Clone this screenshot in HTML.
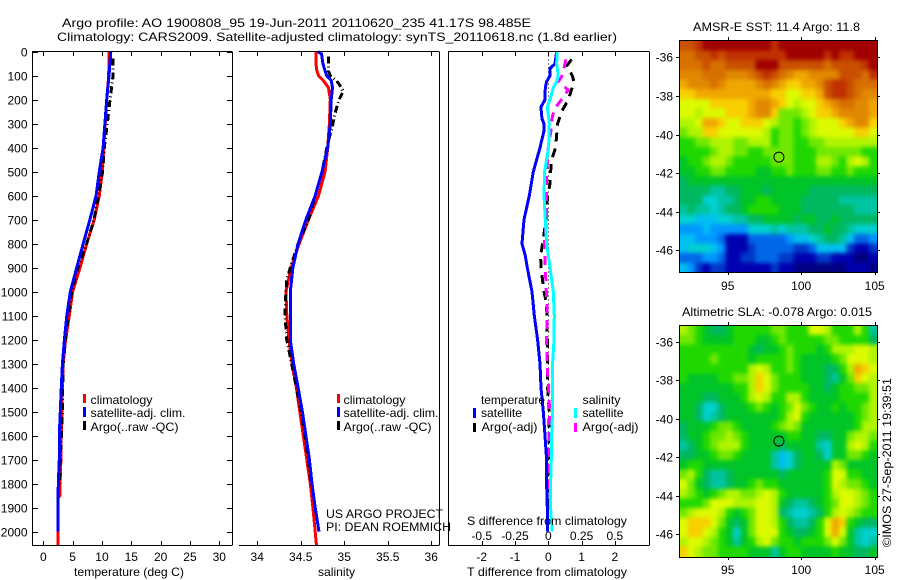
<!DOCTYPE html>
<html>
<head>
<meta charset="utf-8">
<title>Argo profile</title>
<style>
html,body{margin:0;padding:0;background:#fff;}
svg{display:block;}
text{font-family:"Liberation Sans",sans-serif;font-size:12px;fill:#000;}
</style>
</head>
<body>
<svg id="chart" width="900" height="580" viewBox="0 0 900 580" xmlns="http://www.w3.org/2000/svg">
  <defs>
    <filter id="map-smooth" filterUnits="userSpaceOnUse" x="650" y="20" width="250" height="560" color-interpolation-filters="sRGB">
      <feGaussianBlur stdDeviation="2.2"/>
    </filter>
    <clipPath id="sst-clip"><rect x="679" y="40" width="198" height="232"/></clipPath>
    <clipPath id="sla-clip"><rect x="679" y="325" width="198" height="232"/></clipPath>
  </defs>
  <rect x="0" y="0" width="900" height="580" fill="#fff"/>
  <text x="62" y="27" textLength="469" lengthAdjust="spacingAndGlyphs">Argo profile: AO 1900808_95 19-Jun-2011 20110620_235 41.17S 98.485E</text>
  <text x="57" y="41" textLength="560" lengthAdjust="spacingAndGlyphs">Climatology: CARS2009. Satellite-adjusted climatology: synTS_20110618.nc (1.8d earlier)</text>

  <g id="maps"></g>
  <g id="lines"></g>
  <g id="axes"></g>

  <g>
    <rect x="83" y="394" width="3" height="9" fill="#f00"/>
    <rect x="83" y="407" width="3" height="10" fill="#00f"/>
    <rect x="83" y="421" width="3" height="9" fill="#000"/>
    <text x="90.5" y="404" textLength="62" lengthAdjust="spacingAndGlyphs">climatology</text>
    <text x="90.5" y="417" textLength="95" lengthAdjust="spacingAndGlyphs">satellite-adj. clim.</text>
    <text x="90.5" y="431" textLength="88" lengthAdjust="spacingAndGlyphs">Argo(..raw -QC)</text>
  </g>
  <g>
    <rect x="337" y="394" width="3" height="9" fill="#f00"/>
    <rect x="337" y="407" width="3" height="10" fill="#00f"/>
    <rect x="337" y="421" width="3" height="9" fill="#000"/>
    <text x="343.5" y="404" textLength="62" lengthAdjust="spacingAndGlyphs">climatology</text>
    <text x="343.5" y="417" textLength="95" lengthAdjust="spacingAndGlyphs">satellite-adj. clim.</text>
    <text x="343.5" y="431" textLength="88" lengthAdjust="spacingAndGlyphs">Argo(..raw -QC)</text>
  </g>
  <g>
    <text x="481" y="404" textLength="64" lengthAdjust="spacingAndGlyphs">temperature</text>
    <rect x="473" y="408" width="3" height="10" fill="#00f"/>
    <text x="481" y="417" textLength="41" lengthAdjust="spacingAndGlyphs">satellite</text>
    <rect x="473" y="423" width="3" height="9" fill="#000"/>
    <text x="481.5" y="431" textLength="56" lengthAdjust="spacingAndGlyphs">Argo(-adj)</text>
    <text x="582.5" y="404" textLength="38" lengthAdjust="spacingAndGlyphs">salinity</text>
    <rect x="574" y="408" width="3" height="10" fill="#0ff"/>
    <text x="582.5" y="417" textLength="41" lengthAdjust="spacingAndGlyphs">satellite</text>
    <rect x="574" y="423" width="3" height="9" fill="#f0f"/>
    <text x="582.5" y="431" textLength="56" lengthAdjust="spacingAndGlyphs">Argo(-adj)</text>
  </g>

  <text x="326" y="518" textLength="117" lengthAdjust="spacingAndGlyphs">US ARGO PROJECT</text>
  <text x="326" y="531" textLength="125" lengthAdjust="spacingAndGlyphs">PI: DEAN ROEMMICH</text>

  <text x="74" y="576" textLength="110" lengthAdjust="spacingAndGlyphs">temperature (deg C)</text>
  <text x="318" y="576" textLength="37" lengthAdjust="spacingAndGlyphs">salinity</text>
  <text x="467" y="525" textLength="160" lengthAdjust="spacingAndGlyphs">S difference from climatology</text>
  <text x="467" y="576" textLength="160" lengthAdjust="spacingAndGlyphs">T difference from climatology</text>

  <text x="693" y="31" textLength="167" lengthAdjust="spacingAndGlyphs">AMSR-E SST: 11.4  Argo: 11.8</text>
  <text x="682" y="316" textLength="190" lengthAdjust="spacingAndGlyphs">Altimetric SLA: -0.078  Argo: 0.015</text>
  <text transform="translate(891,547) rotate(-90)" x="0" y="0" textLength="169" lengthAdjust="spacingAndGlyphs">©IMOS 27-Sep-2011 19:39:51</text>
</svg>

<script>
// ---------- profile data ----------
const depthTicks = [0,100,200,300,400,500,600,700,800,900,1000,1100,1200,1300,1400,1500,1600,1700,1800,1900,2000];
const tempTicks = [0,5,10,15,20,25,30];
const salTicks = [34,34.5,35,35.5,36];
const salTickLabels = ['34','34.5','35','35.5','36'];
const tDiffTicks = [-2,-1,0,1,2];
const sDiffTicks = [-0.5,-0.25,0,0.25,0.5];
const sDiffTickLabels = ['-0.5','-0.25','0','0.25','0.5'];

const tempDepthBlue = [0,100,200,300,400,500,600,700,800,900,1000,1100,1200,1300,1400,1500,1600,1700,1800,1900,2000];
const tempBlue = [11.5,11.2,10.8,10.5,10.2,9.55,9.0,7.95,6.8,5.7,4.6,4.0,3.6,3.25,3.07,2.9,2.73,2.73,2.56,2.5,2.5];
const tempDepthRed = [0,100,200,300,400,500,600,700,800,900,1000,1100,1200,1300,1400,1500,1600,1700,1800,1850,1860,2000,2055];
const tempRed = [11.2,11.15,10.8,10.55,10.3,10.05,9.55,8.7,7.4,6.25,5.0,4.43,3.8,3.4,3.25,3.18,3.07,3.0,2.85,2.85,2.5,2.5,2.5];
const tempDepthArgo = [28,100,200,300,400,500,600,700,800,900,1000,1100,1200,1300,1400,1500,1600,1700,1810];
const tempArgo = [11.9,11.9,11.37,10.9,10.4,10.1,9.4,8.65,7.4,5.9,4.85,4.26,3.8,3.4,3.3,3.25,3.07,2.9,2.8];

const salDepthBlue = [0,10,50,80,100,120,150,200,300,400,500,600,700,800,900,1000,1100,1200,1300,1400,1500,1600,1700,1800,1900,2000];
const salBlue = [34.7,34.74,34.755,34.78,34.8,34.85,34.865,34.85,34.84,34.81,34.745,34.667,34.56,34.47,34.41,34.38,34.38,34.38,34.42,34.47,34.52,34.56,34.6,34.63,34.667,34.71];
const salDepthRed = [0,50,80,100,120,150,200,300,400,500,600,700,800,900,1000,1100,1200,1300,1400,1500,1600,1700,1800,1900,2000,2055];
const salRed = [34.675,34.675,34.686,34.705,34.76,34.82,34.84,34.83,34.81,34.78,34.705,34.59,34.483,34.39,34.33,34.34,34.365,34.4,34.45,34.49,34.53,34.57,34.61,34.64,34.667,34.68];
const salDepthArgo = [20,80,100,120,150,165,200,250,300,400,500,600,700,800,900,950,1000,1100,1200,1300,1400,1500,1600,1700,1810];
const salArgo = [34.82,34.82,34.84,34.91,34.97,34.99,34.94,34.9,34.87,34.8,34.745,34.667,34.59,34.47,34.38,34.34,34.33,34.32,34.34,34.395,34.45,34.505,34.55,34.59,34.62];

const diffDepthTSat = [0,50,70,100,125,150,200,230,250,280,300,330,400,500,600,700,800,850,900,1000,1100,1200,1300,1400,1500,1600,1700,1800,1900,2000];
const diffTSat = [0.25,0.2,0.05,0.05,-0.05,-0.09,-0.1,-0.22,-0.21,-0.19,-0.13,-0.13,-0.25,-0.45,-0.57,-0.73,-0.79,-0.69,-0.63,-0.49,-0.42,-0.32,-0.25,-0.22,-0.15,-0.1,-0.05,-0.05,-0.03,-0.03];
const diffDepthSSat = [0,50,100,125,150,200,230,300,400,450,500,600,700,800,900,1000,1100,1200,1300,1400,1500,1600,1700,1800,1900,2000];
const diffSSat = [0.0675,0.0625,0.075,0.0625,0.0375,0.0125,-0.0075,0.0075,0.0025,-0.0125,-0.0275,-0.0325,-0.0225,-0.0125,0.0125,0.0375,0.045,0.0425,0.0325,0.0325,0.0325,0.025,0.0225,0.0175,0.0175,0.03];
const diffDepthTArgo = [32,60,80,100,125,170,200,250,300,400,450,500,550,600,700,780,850,900,1000,1050,1200,1400,1500,1600,1700,1800,1900];
const diffTArgo = [0.7,0.55,0.65,0.72,0.77,0.67,0.6,0.4,0.28,0.22,0.1,0.07,0.05,-0.02,-0.07,-0.15,-0.23,-0.22,-0.13,-0.05,-0.03,-0.02,0.03,0.02,0,-0.02,-0.03];
const diffDepthSArgo = [32,70,104,125,160,208,235,270,300,400,500,600,700,800,850,900,1000,1100,1200,1300,1400,1500,1600,1700,1800,1850];
const diffSArgo = [0.1325,0.118,0.1,0.075,0.15,0.0875,0.05,0.03,0.0275,0,-0.0125,-0.0125,-0.0125,-0.03,-0.025,-0.0225,-0.015,-0.0075,-0.0125,-0.01,0.0025,0.01,0.005,0.0025,0,0];

// ---------- map data: colour levels 0 (coldest/lowest) .. 20 (warmest/highest) ----------
const mapLonTicks = [95,100,105];
const mapLatTicks = [-36,-38,-40,-42,-44,-46];
const argoLon = 98.485;
const argoLat = -41.17;

const sstLevels = [
[18,18,19,20,20,20,20,20,20,20,20,20,19,20,20,20,20,20,20,20,20,20,20,20,20,20],
[17,17,18,18,19,18,19,19,19,19,19,19,19,19,20,20,20,20,20,19,20,19,19,20,20,20],
[17,17,17,18,17,17,18,18,18,18,20,20,20,18,18,18,18,18,18,17,18,18,18,18,19,20],
[16,16,16,17,17,17,16,16,16,17,18,19,18,17,16,15,15,16,16,16,16,18,18,18,17,19],
[15,16,16,16,17,16,15,15,15,15,16,17,16,15,14,14,15,15,16,18,19,19,18,17,17,17],
[14,14,15,15,15,15,15,15,15,15,15,15,14,14,13,13,14,14,15,18,19,19,18,17,16,16],
[13,13,13,13,14,14,14,14,14,15,16,16,15,14,13,12,13,13,14,15,16,17,17,16,16,15],
[13,13,12,13,13,13,14,14,14,15,16,16,14,11,11,11,12,13,14,14,15,16,16,16,16,15],
[12,12,13,15,15,14,13,13,14,14,14,13,12,11,11,10,11,12,13,13,13,14,15,16,16,14],
[11,12,12,14,14,13,13,13,13,13,13,12,10,11,11,10,11,12,13,13,13,13,13,14,14,13],
[10,10,11,11,12,12,12,11,11,12,12,12,10,11,11,10,10,11,11,12,12,12,12,12,12,12],
[10,10,10,10,11,12,12,11,11,10,10,11,11,11,11,10,10,10,11,11,11,11,11,11,10,10],
[9,10,10,11,12,12,11,10,10,10,10,10,11,11,11,10,10,10,12,12,11,10,12,13,12,10],
[9,9,10,10,11,11,10,10,10,10,9,9,10,10,11,10,10,10,11,11,10,10,11,10,10,10],
[8,9,9,9,9,9,9,9,9,9,9,9,9,9,9,9,9,9,9,9,9,9,9,9,9,9],
[8,8,8,8,7,7,8,8,9,9,9,8,9,9,9,9,9,8,8,8,8,8,8,8,8,8],
[8,8,8,6,6,7,7,8,9,9,10,10,9,9,9,9,8,8,8,8,8,7,7,7,7,7],
[7,8,7,7,6,7,8,8,9,10,10,10,10,9,9,9,8,8,8,8,8,8,8,7,7,7],
[6,6,5,5,5,6,6,7,7,8,8,9,9,9,9,8,9,9,8,8,9,8,8,8,8,8],
[4,4,4,5,4,4,4,4,4,6,6,6,7,6,7,7,7,8,8,9,8,8,7,6,6,6],
[5,5,4,4,4,3,1,1,1,3,3,3,3,3,4,5,5,6,7,8,8,7,5,3,3,4],
[5,6,6,6,5,4,1,1,1,2,3,3,3,3,3,2,2,3,5,5,5,5,2,1,1,2],
[3,3,3,4,4,3,1,1,2,2,3,3,3,2,2,1,1,1,2,2,1,1,1,0,0,1],
[5,4,2,1,2,2,1,1,1,1,1,1,2,1,1,0,0,0,0,0,0,0,1,1,1,0]
];

const slaLevels = [
[12,11,10,9,8,8,9,10,10,10,10,10,11,11,10,10,10,13,13,12,10,10,10,12,10,7],
[11,11,10,9,9,9,9,10,10,10,9,9,10,11,10,10,10,10,10,11,11,10,10,10,10,8],
[10,10,10,10,10,10,10,10,10,9,8,9,9,10,11,10,10,10,9,10,12,12,12,13,13,12],
[10,10,10,10,11,10,10,10,10,9,10,10,10,10,11,10,9,9,9,9,10,11,13,13,13,12],
[10,10,10,10,10,10,10,10,10,12,13,12,10,10,11,10,9,9,9,8,8,10,12,15,14,13],
[10,9,9,9,9,10,10,11,11,12,14,13,11,10,10,10,9,9,9,8,7,9,11,14,13,12],
[9,9,9,9,9,9,9,10,10,12,14,13,11,10,10,10,10,9,9,8,9,10,10,11,11,12],
[9,9,9,8,8,9,9,9,10,12,13,12,10,10,12,12,10,9,9,9,9,10,10,10,10,12],
[9,9,8,6,6,8,9,9,9,10,11,10,9,10,11,13,11,10,9,9,10,9,10,10,11,12],
[9,9,8,6,7,8,9,9,9,9,9,9,9,10,12,13,10,9,9,9,9,9,9,10,11,12],
[8,9,9,9,10,11,11,10,9,9,9,9,10,11,12,11,9,9,9,9,9,9,9,10,12,12],
[8,9,9,10,11,11,12,11,10,9,9,9,9,9,10,10,9,9,8,8,9,9,11,12,12,11],
[7,8,9,10,11,12,12,12,10,9,9,9,9,8,9,9,9,9,7,6,9,9,12,13,12,10],
[8,8,9,9,10,11,11,10,9,9,9,9,7,5,6,8,9,9,8,6,9,9,11,11,10,9],
[9,10,10,9,9,9,9,9,9,9,9,9,7,5,6,8,9,9,9,9,12,11,9,9,9,9],
[11,12,10,8,7,7,8,9,9,9,9,9,9,8,9,9,9,9,9,10,13,13,10,10,9,9],
[13,11,9,8,7,7,8,9,9,10,11,10,10,9,9,9,9,9,9,10,13,12,11,11,10,9],
[12,11,10,9,10,11,12,12,11,11,12,13,12,10,9,9,9,9,9,10,12,13,13,12,11,10],
[10,10,10,11,13,13,13,12,12,12,13,13,12,9,8,7,7,8,9,10,11,13,13,12,11,10],
[11,12,13,13,13,12,10,9,10,11,13,13,12,8,7,6,6,7,8,10,12,13,12,11,10,10],
[13,14,14,14,13,11,9,8,9,11,13,13,12,10,8,7,7,8,10,13,15,14,10,9,8,8],
[13,14,14,13,12,10,9,6,9,11,13,13,13,10,9,8,8,9,10,13,15,13,9,7,6,6],
[12,13,13,12,11,10,9,7,9,10,12,13,11,10,10,9,10,10,10,11,13,11,9,7,6,7],
[14,13,12,11,11,10,10,10,10,9,9,9,7,9,10,10,9,9,9,9,10,9,9,8,8,9]
];

// ---------- colour scale ----------
const palette = ['#000080','#0000b0','#0038c8','#0068e8','#0098ff','#00c0f0','#00d0d0','#00c4a0','#00b860','#00c428','#20d800','#70e800','#b0f400','#dcfa00','#f8d000','#f0a800','#e08800','#d87000','#c85000','#c03000','#a00000'];
function levelColor(v){
  return palette[Math.max(0,Math.min(palette.length-1,Math.round(v)))];
}

// ---------- axis functions ----------
function depthY(d){ return 51.7 + 0.24*d; }
function tempX(t){ return 43.3 + 5.867*t; }
function salX(s){ return 257.2 + 87*(s-34); }
function tDiffX(t){ return 548.3 + 33.3*t; }
function sDiffX(s){ return 548.3 + 133.2*s; }
function mapX(lon){ return 727.7 + 14.7*(lon-95); }
function sstY(lat){ return 57.3 + 19.3*(-36-lat); }
function slaY(lat){ return 341.7 + 19.23*(-36-lat); }

const NS = 'http://www.w3.org/2000/svg';
const linesG = document.getElementById('lines');
const axesG = document.getElementById('axes');
const mapsG = document.getElementById('maps');

function make(tag, parent){
  const e = document.createElementNS(NS, tag);
  parent.appendChild(e);
  return e;
}
function drawLine(el, x1, y1, x2, y2){
  el.setAttribute('x1', x1);
  el.setAttribute('y1', y1);
  el.setAttribute('x2', x2);
  el.setAttribute('y2', y2);
  el.setAttribute('stroke', '#000');
  el.setAttribute('stroke-width', 1);
  el.setAttribute('shape-rendering', 'crispEdges');
}
function placeText(el, x, y, anchor, str){
  el.setAttribute('x', x);
  el.setAttribute('y', y);
  el.setAttribute('text-anchor', anchor);
  el.textContent = str;
}
function drawSeries(el, xs, depths, xFn, color, dash){
  el.setAttribute('points', xs.map(function(v,i){ return xFn(v).toFixed(1)+','+depthY(depths[i]).toFixed(1); }).join(' '));
  el.setAttribute('fill', 'none');
  el.setAttribute('stroke', color);
  el.setAttribute('stroke-width', 3);
  el.setAttribute('shape-rendering', 'crispEdges');
  if (dash) el.setAttribute('stroke-dasharray', dash);
}

// ---------- frames ----------
const frames = [
  ['temperature-panel-top-spine',32,51.5,232,51.5],
  ['temperature-panel-bottom-spine',32,545.5,232,545.5],
  ['temperature-panel-left-spine',32.5,51.5,32.5,545.5],
  ['temperature-panel-right-spine',232.5,51.5,232.5,545.5],
  ['salinity-panel-top-spine',239,51.5,439,51.5],
  ['salinity-panel-bottom-spine',239,545.5,439,545.5],
  ['salinity-panel-right-spine',439.5,51.5,439.5,545.5],
  ['difference-panel-top-spine',448,51.5,649,51.5],
  ['difference-panel-bottom-spine',448,545.5,649,545.5],
  ['difference-panel-left-spine',448.5,51.5,448.5,545.5],
  ['difference-panel-right-spine',649.5,51.5,649.5,545.5]
];
frames.forEach(function(f){
  const l = make('line', axesG);
  
  
  drawLine(l, f[1], f[2], f[3], f[4]);
});

// ---------- depth ticks and labels ----------
depthTicks.forEach(function(d){
  const y = Math.round(depthY(d)) + 0.5;
  const a = make('line', axesG);
  
  
  drawLine(a, 32, y, 38, y);
  const b = make('line', axesG);
  
  
  drawLine(b, 227, y, 232, y);
  const t = make('text', axesG);
  
  
  placeText(t, 27.5, y + 4, 'end', String(d));
});

// ---------- x ticks ----------
function xTicks(values, labels, xFn, labelY, name){
  values.forEach(function(v,i){
    const x = Math.round(xFn(v)) + 0.5;
    const top = make('line', axesG);
    
    
    drawLine(top, x, 52, x, 56);
    const bottom = make('line', axesG);
    
    
    drawLine(bottom, x, 541, x, 545);
    const t = make('text', axesG);
    
    
    placeText(t, xFn(v), labelY, 'middle', labels[i]);
  });
}
xTicks(tempTicks, tempTicks.map(String), tempX, 561, 'temperature');
xTicks(salTicks, salTickLabels, salX, 561, 'salinity');
xTicks(tDiffTicks, tDiffTicks.map(String), tDiffX, 561, 't-difference');
sDiffTicks.forEach(function(v,i){
  const t = make('text', axesG);
  
  
  placeText(t, sDiffX(v), 540, 'middle', sDiffTickLabels[i]);
});

// ---------- profile series ----------
const p1 = make('polyline', linesG);


drawSeries(p1, tempRed, tempDepthRed, tempX, '#f00');
const p2 = make('polyline', linesG);


drawSeries(p2, tempArgo, tempDepthArgo, tempX, '#000', '7 3 1 3');
const p3 = make('polyline', linesG);


drawSeries(p3, tempBlue, tempDepthBlue, tempX, '#00f');

const p4 = make('polyline', linesG);


drawSeries(p4, salRed, salDepthRed, salX, '#f00');
const p5 = make('polyline', linesG);


drawSeries(p5, salArgo, salDepthArgo, salX, '#000', '7 3 1 3');
const p6 = make('polyline', linesG);


drawSeries(p6, salBlue, salDepthBlue, salX, '#00f');

const zero = make('line', linesG);


drawLine(zero, 548.5, depthY(0), 548.5, depthY(2000));
zero.setAttribute('stroke-dasharray', '1 3');

const p7 = make('polyline', linesG);


drawSeries(p7, diffTArgo, diffDepthTArgo, tDiffX, '#000', '9 7');
const p8 = make('polyline', linesG);


drawSeries(p8, diffSArgo, diffDepthSArgo, sDiffX, '#f0f', '9 7');
const p9 = make('polyline', linesG);


drawSeries(p9, diffTSat, diffDepthTSat, tDiffX, '#00f');
const p10 = make('polyline', linesG);


drawSeries(p10, diffSSat, diffDepthSSat, sDiffX, '#0ff');

// ---------- maps ----------
const lonStart = 91.75;
const latStart = -35.15;
const lonStep = 0.515;
const latStep = 0.5;
function drawMap(levels, yFn, name, labelY, clipId, left, right, top, bottom){
  const clipGroup = make('g', mapsG);
  
  
  clipGroup.setAttribute('clip-path', 'url(#' + clipId + ')');
  const cells = make('g', clipGroup);
  
  
  cells.setAttribute('filter', 'url(#map-smooth)');
  const lastRow = levels.length - 1;
  levels.forEach(function(row, r){
    const lastCol = row.length - 1;
    row.forEach(function(v, c){
      // outer cells run past the clip so the smoothing never pulls in white
      const x0 = mapX(lonStart + c*lonStep) - (c === 0 ? 12 : 0);
      const x1 = mapX(lonStart + (c+1)*lonStep) + (c === lastCol ? 12 : 0);
      const y0 = yFn(latStart - r*latStep) - (r === 0 ? 12 : 0);
      const y1 = yFn(latStart - (r+1)*latStep) + (r === lastRow ? 12 : 0);
      const cell = make('rect', cells);
      
      
      cell.setAttribute('x', x0.toFixed(2));
      cell.setAttribute('y', y0.toFixed(2));
      cell.setAttribute('width', (x1-x0).toFixed(2));
      cell.setAttribute('height', (y1-y0).toFixed(2));
      cell.setAttribute('fill', levelColor(v));
      cell.setAttribute('shape-rendering', 'crispEdges');
    });
  });
  const border = make('rect', mapsG);
  
  
  border.setAttribute('x', left + 0.5);
  border.setAttribute('y', top + 0.5);
  border.setAttribute('width', right - left);
  border.setAttribute('height', bottom - top);
  border.setAttribute('fill', 'none');
  border.setAttribute('stroke', '#000');
  border.setAttribute('shape-rendering', 'crispEdges');
  mapLonTicks.forEach(function(lon){
    const x = Math.round(mapX(lon)) + 0.5;
    const a = make('line', mapsG);
    
    
    drawLine(a, x, top - 3, x, top);
    const b = make('line', mapsG);
    
    
    drawLine(b, x, bottom, x, bottom + 3);
    const t = make('text', mapsG);
    
    
    placeText(t, mapX(lon), labelY, 'middle', String(lon));
  });
  mapLatTicks.forEach(function(lat){
    const y = Math.round(yFn(lat)) + 0.5;
    const a = make('line', mapsG);
    
    
    drawLine(a, left - 3, y, left, y);
    const b = make('line', mapsG);
    
    
    drawLine(b, right, y, right + 3, y);
    const t = make('text', mapsG);
    
    
    placeText(t, 673, y + 4, 'end', String(lat));
  });
  const c = make('circle', mapsG);
  
  
  c.setAttribute('cx', mapX(argoLon));
  c.setAttribute('cy', yFn(argoLat));
  c.setAttribute('r', 5);
  c.setAttribute('fill', 'none');
  c.setAttribute('stroke', '#000');
}
drawMap(sstLevels, sstY, 'sst-map', 290, 'sst-clip', 679, 877, 40, 272);
drawMap(slaLevels, slaY, 'sla-map', 574, 'sla-clip', 679, 877, 325, 557);
</script>
</body>
</html>
